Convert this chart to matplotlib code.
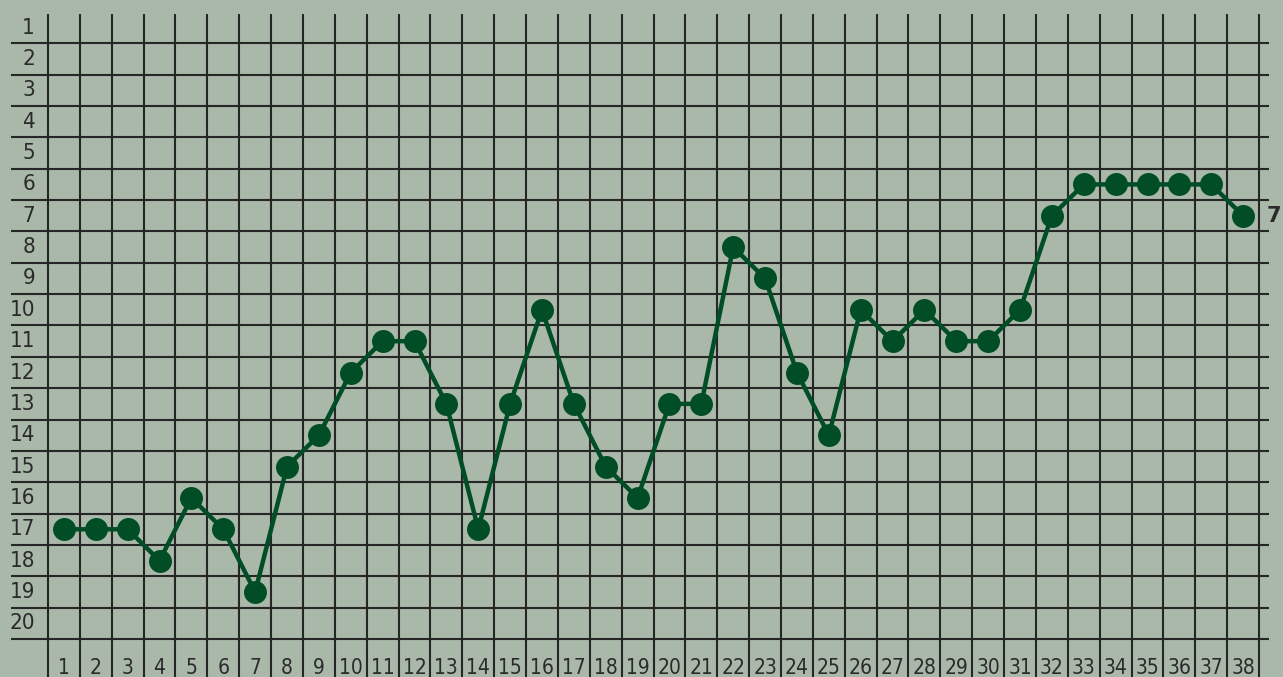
import matplotlib
matplotlib.use("Agg")
import matplotlib.pyplot as plt

# Data
weeks = list(range(1, 39))
ranks = [17, 17, 17, 18, 16, 17, 19, 15, 14, 12, 11, 11, 13, 17, 13, 10, 13, 15, 16, 13,
         13, 8, 9, 12, 14, 10, 11, 10, 11, 11, 10, 7, 6, 6, 6, 6, 6, 7]
row_labels = list(range(1, 21))
col_labels = list(range(1, 39))

BG = "#a9b8a9"
GRID = "#262626"
LINE = "#004d26"
TXT = "#2a2a2a"

W, H = 1283, 677
fig = plt.figure(figsize=(W / 100, H / 100), dpi=100, facecolor=BG)
ax = fig.add_axes([0, 0, 1, 1])
ax.set_facecolor(BG)
ax.axis("off")

cw = 31.87
rh = 31.35
x0px = 48
y0px = 12
ax.set_xlim(0.5 - x0px / cw, 0.5 + (W - x0px) / cw)
ax.set_ylim(0.5 + (H - y0px) / rh, 0.5 - y0px / rh)

def px_x(p):
    return 0.5 + (p - x0px) / cw

def px_y(p):
    return 0.5 + (p - y0px) / rh

ax.hlines([r + 0.5 for r in row_labels], px_x(11), px_x(1269), colors=GRID, lw=1.5, zorder=1)
ax.vlines([c - 0.5 for c in col_labels] + [col_labels[-1] + 0.5], px_y(14), px_y(H + 5),
          colors=GRID, lw=1.5, zorder=1)

fkw = dict(family="DejaVu Sans", fontstretch="condensed", fontweight="light")
for r in row_labels:
    ax.text(px_x(35), r, str(r), ha="right", va="center", fontsize=16,
            color=TXT, clip_on=False, **fkw)
for c in col_labels:
    ax.text(c, px_y(668), str(c), ha="center", va="center", fontsize=15,
            color=TXT, clip_on=False, **fkw)

ax.plot(weeks, ranks, color=LINE, lw=3.2, marker="o", markersize=15.5,
        markerfacecolor=LINE, markeredgecolor=LINE, zorder=3, clip_on=False)

ax.text(px_x(1267), ranks[-1], str(ranks[-1]), ha="left", va="center", fontsize=15,
        family="DejaVu Sans", fontweight="bold", color=TXT, clip_on=False)

fig.savefig("out.png", dpi=100, facecolor=BG)
